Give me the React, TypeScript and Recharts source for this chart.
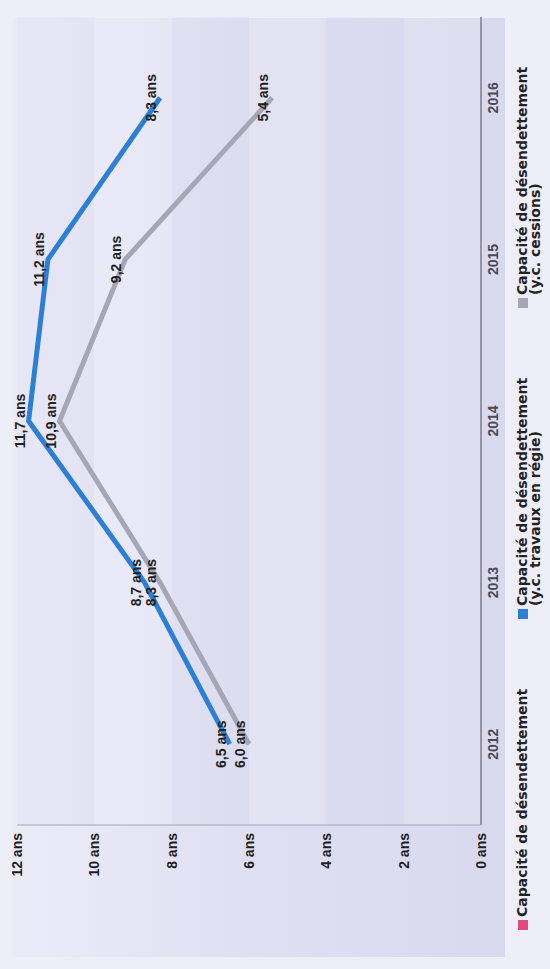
import React from 'react';
import { LineChart, Line, XAxis, YAxis, CartesianGrid, LabelList } from 'recharts';

const years = ['2012', '2013', '2014', '2015', '2016'];
const capaciteValues: (number | null)[] = [null, null, null, null, null];
const travauxValues = [6.5, 8.7, 11.7, 11.2, 8.3];
const cessionsValues = [6.0, 8.3, 10.9, 9.2, 5.4];
const valueTicks = [0, 2, 4, 6, 8, 10, 12];

const series = [
  { key: 'capacite', lines: ['Capacité de désendettement'], color: '#e04a7f' },
  { key: 'travaux', lines: ['Capacité de désendettement', '(y.c. travaux en régie)'], color: '#2b80d6' },
  { key: 'cessions', lines: ['Capacité de désendettement', '(y.c. cessions)'], color: '#a6a6b6' },
];

const chartData = years.map((year, i) => ({
  year,
  capacite: capaciteValues[i],
  travaux: travauxValues[i],
  cessions: cessionsValues[i],
}));

const FONT = '"Liberation Sans", Arial, sans-serif';
const LEGEND_FONT = '"DejaVu Sans", Verdana, sans-serif';
const W = 969;
const H = 550;
const CHART_H = 505;

const formatAns = (v: any) => (v == null ? '' : `${Number(v).toFixed(1).replace('.', ',')} ans`);

// legend is drawn outside the chart: Recharts measures it with getBoundingClientRect,
// which gives swapped sizes once the whole thing is rotated
function ChartLegend() {
  return (
    <div style={{ display: 'flex', paddingLeft: 39, paddingTop: 11, fontFamily: LEGEND_FONT }}>
      {series.map((s) => (
        <div key={s.key} style={{ width: 311, flexShrink: 0, display: 'flex', alignItems: 'flex-start' }}>
          <span style={{ width: 10, height: 10, background: s.color, marginTop: 2, marginRight: 3, flexShrink: 0 }} />
          <div style={{ fontSize: 14, fontWeight: 700, lineHeight: '13px', color: '#222' }}>
            {s.lines.map((l) => (
              <div key={l}>{l}</div>
            ))}
          </div>
        </div>
      ))}
    </div>
  );
}

export default function App() {
  const labelStyle = { fill: '#222', fontSize: 14, fontWeight: 700, fontFamily: FONT };
  return (
    <div
      style={{
        position: 'absolute',
        top: 0,
        left: 0,
        width: H,
        height: W,
        overflow: 'hidden',
        background: '#eeeef9',
      }}
    >
      <div
        style={{
          position: 'absolute',
          top: 0,
          left: 0,
          width: W,
          height: H,
          transformOrigin: '0 0',
          transform: `translateY(${W}px) rotate(-90deg)`,
        }}
      >
        {/* card behind the chart */}
        <div
          style={{
            position: 'absolute',
            left: 12,
            top: 13,
            width: 939,
            height: 492,
            background: 'linear-gradient(180deg, #ebebf8 0%, #e0e0f3 45%, #d9d9ee 100%)',
          }}
        />
        <div style={{ position: 'absolute', left: 0, top: 0 }}>
          <LineChart width={W} height={CHART_H} data={chartData} margin={{ top: 17, right: 17, bottom: 0, left: 0 }}>
            <CartesianGrid
              vertical={false}
              stroke="none"
              horizontalFill={['rgba(205,205,235,0.14)', 'rgba(255,255,255,0.12)']}
            />
            <XAxis
              dataKey="year"
              scale="band"
              height={24}
              tickLine={false}
              tickMargin={1}
              stroke="#7c7c8e"
              strokeWidth={1.5}
              tick={{ fill: '#4a4a56', fontSize: 14, fontWeight: 700, fontFamily: FONT }}
            />
            <YAxis
              width={144}
              domain={[0, 12]}
              ticks={valueTicks}
              tickLine={false}
              tickMargin={2}
              stroke="#a4a4bc"
              tickFormatter={(v) => `${v} ans`}
              tick={{ fill: '#1e1e24', fontSize: 14, fontWeight: 700, fontFamily: FONT }}
            />
            <Line dataKey="capacite" stroke={series[0].color} strokeWidth={5} dot={false} isAnimationActive={false} />
            <Line dataKey="cessions" stroke={series[2].color} strokeWidth={5} dot={false} isAnimationActive={false}>
              <LabelList dataKey="cessions" position="top" offset={4} formatter={formatAns} style={labelStyle} />
            </Line>
            <Line dataKey="travaux" stroke={series[1].color} strokeWidth={5} dot={false} isAnimationActive={false}>
              <LabelList dataKey="travaux" position="top" offset={4} formatter={formatAns} style={labelStyle} />
            </Line>
          </LineChart>
        </div>
        <div style={{ position: 'absolute', top: CHART_H, left: 0, width: W, height: H - CHART_H }}>
          <ChartLegend />
        </div>
      </div>
    </div>
  );
}
